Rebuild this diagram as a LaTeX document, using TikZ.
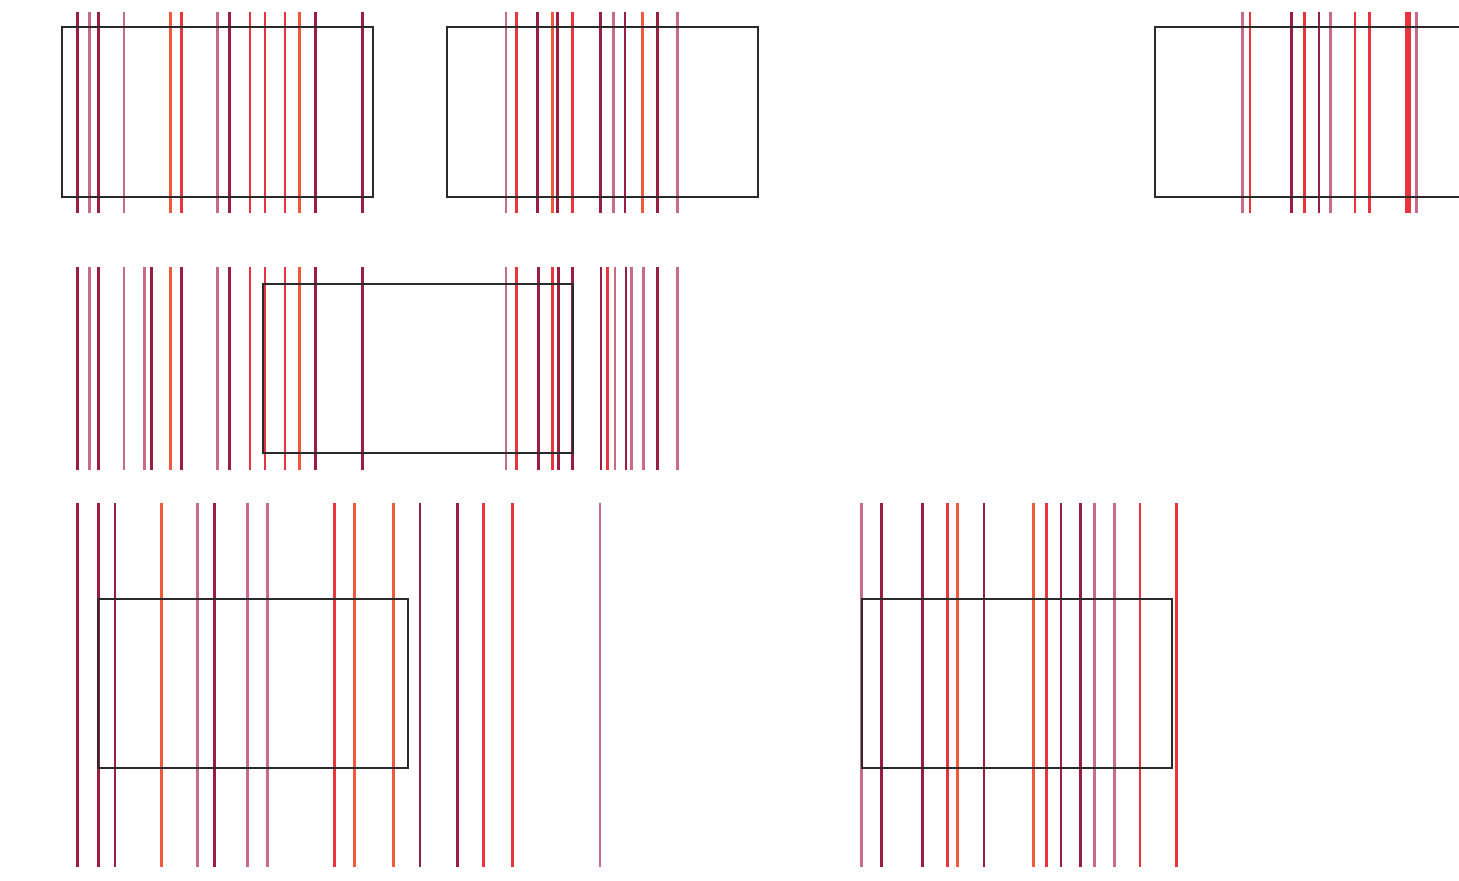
\documentclass[tikz,border=0pt]{standalone}
\usepackage{xcolor}
\usepackage{tikz}
\definecolor{lnDark}{HTML}{9A1E40}
\definecolor{lnRed}{HTML}{E8343C}
\definecolor{lnRose}{HTML}{C86A8A}
\definecolor{lnOrange}{HTML}{F2583C}
\definecolor{boxGray}{HTML}{2A2A2A}

\tikzset{
  vline/.style={draw=#1, line width=0.7pt},
  box/.style={draw=boxGray, line width=0.75pt}
}

\begin{document}
\begin{tikzpicture}[x=0.01cm, y=-0.01cm]
  \useasboundingbox (0,0) rectangle (1459,881);

  % row 1
  \foreach \x/\c in {77.7/lnDark, 89.3/lnRose, 98.3/lnDark, 124/lnRose, 170.7/lnOrange,
      181.7/lnRed, 217.7/lnRose, 229.3/lnDark, 250/lnRed, 265/lnRed, 285/lnRed,
      299.3/lnOrange, 315.7/lnDark, 362.7/lnDark}
    \draw[vline=\c] (\x,12) -- (\x,213);
  \draw[box] (62,27) rectangle (373,197);

  \foreach \x/\c in {506/lnRose, 516.7/lnRed, 537.7/lnDark, 552.7/lnOrange, 557.7/lnDark,
      572.3/lnRed, 600.7/lnDark, 613.3/lnRose, 625/lnDark, 642.7/lnOrange,
      657.3/lnDark, 677.3/lnRose}
    \draw[vline=\c] (\x,12) -- (\x,213);
  \draw[box] (447,27) rectangle (758,197);

  \foreach \x/\c in {1242.7/lnRose, 1250/lnRed, 1291.7/lnDark, 1304.3/lnRed, 1319/lnDark,
      1330.7/lnRose, 1355/lnRed, 1369.3/lnRed, 1406.7/lnRed, 1409.3/lnRed, 1416.7/lnRose}
    \draw[vline=\c] (\x,12) -- (\x,213);
  \draw[box] (1462,27) -- (1155,27) -- (1155,197) -- (1462,197);

  % row 2
  \foreach \x/\c in {77.7/lnDark, 89.3/lnRose, 98.3/lnDark, 124/lnRose, 144.3/lnRose,
      151.7/lnDark, 170.7/lnOrange, 181.7/lnDark, 217.7/lnRose, 229.3/lnDark, 250/lnRed,
      265/lnRed, 285/lnRed, 299.3/lnOrange, 315.7/lnDark, 362.7/lnDark,
      506/lnRose, 516.7/lnRed, 538.3/lnDark, 552.7/lnRed, 558.3/lnDark, 572.7/lnDark,
      601/lnDark, 607.3/lnRed, 615/lnRose, 626/lnDark, 631.7/lnRose, 643.3/lnRose,
      657.3/lnDark, 677.3/lnRose}
    \draw[vline=\c] (\x,267) -- (\x,470);
  \draw[box] (263,284) rectangle (573,453);

  % row 3
  \foreach \x/\c in {77.7/lnDark, 98.3/lnDark, 115/lnDark, 161.7/lnOrange, 197.7/lnRose,
      214.3/lnDark, 247.7/lnRose, 267.7/lnRose, 334.3/lnRed, 354.3/lnOrange,
      393.3/lnOrange, 420/lnDark, 457.3/lnDark, 483.3/lnRed, 512.7/lnRed, 600/lnRose}
    \draw[vline=\c] (\x,503) -- (\x,867);
  \draw[box] (98,599) rectangle (408,768);

  \foreach \x/\c in {861.7/lnRose, 881.7/lnDark, 922.3/lnDark, 947.7/lnRed, 957.7/lnOrange,
      984/lnDark, 1033.3/lnOrange, 1046.7/lnRed, 1061/lnDark, 1080.7/lnDark,
      1094.3/lnRose, 1114.3/lnRose, 1140/lnRed, 1176.7/lnRed}
    \draw[vline=\c] (\x,503) -- (\x,867);
  \draw[box] (862,599) rectangle (1172,768);
\end{tikzpicture}
\end{document}
